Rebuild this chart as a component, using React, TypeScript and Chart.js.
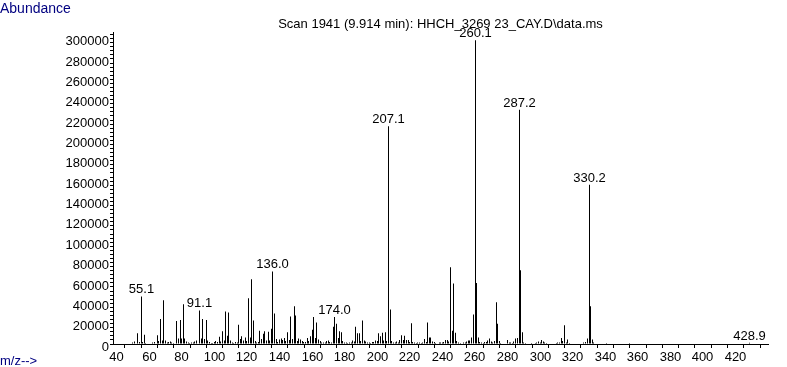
import React, { useEffect, useRef } from "react";
import { Chart, registerables, LinearScale } from "chart.js";

Chart.register(...registerables);

// Linear scale whose pixels land on whole device pixels (crisp 1px spectrum lines)
class CrispLinearScale extends (LinearScale as any) {
  static id = "crispLinear";
  static defaults = {};
  getPixelForValue(value: number) {
    const p = super.getPixelForValue(value);
    return Math.floor(p) + 0.5;
  }
}
Chart.register(CrispLinearScale as any);

// ---- DATA ----
const mzValues: number[] = [
  50, 51, 53, 54, 55.1, 56, 57, 58, 62, 63, 65, 66, 67, 68, 69, 70, 71, 72, 73, 74, 75,
  77, 78, 79, 80, 81, 82, 83, 84, 85, 86, 87, 88, 89, 91.1, 92, 93, 94, 95, 96, 97, 98, 99,
  100, 101, 102, 103, 104, 105, 106, 107, 108, 109, 110, 111, 112, 113, 114, 115, 116, 117,
  118, 119, 120, 121, 122, 123, 124, 125, 126, 127, 128, 129, 130, 131, 132, 133, 134, 135,
  136.0, 137, 138, 139, 140, 141, 142, 143, 144, 145, 146, 147, 148, 149, 150, 151, 152, 153,
  154, 155, 156, 157, 158, 159, 160, 161, 162, 163, 164, 165, 166, 167, 168, 169, 170, 171,
  172, 173, 174.0, 175, 176, 177, 178, 179, 180, 181, 182, 183, 184, 185, 186, 187, 188, 189,
  190, 191, 192, 193, 194, 195, 196, 197, 198, 199, 200, 201, 202, 203, 204, 205, 206, 207.1,
  208, 209, 210, 211, 212, 213, 214, 215, 216, 217, 218, 219, 220, 221, 222, 223, 224, 225,
  226, 227, 228, 229, 230, 231, 232, 233, 234, 235, 236, 238, 239, 240, 241, 242, 243, 244,
  245, 246, 247, 248, 249, 250, 251, 253, 254, 255, 256, 257, 258, 259, 260.1, 261, 262, 263,
  264, 265, 266, 267, 268, 269, 270, 271, 272, 273, 274, 275, 276, 280, 281, 282, 283, 284,
  285, 286, 287.2, 288, 289, 290, 291, 295, 297, 298, 299, 300, 301, 302, 303, 304, 310, 311,
  312, 313, 314, 315, 316, 317, 318, 327, 328, 329, 330.2, 331, 332, 333, 341, 355, 428.9,
];
const abundances: number[] = [
  1500, 2500, 10500, 2000, 46700, 2000, 9000, 1000, 1500, 2000, 8500, 3000, 24500, 3500, 43000, 3500, 1500, 2000, 2500, 1500, 1000,
  22500, 5500, 23500, 5500, 39000, 5500, 2500, 1500, 1000, 1500, 1500, 2500, 3500, 33000, 5500, 24500, 5000, 23500, 3500, 2000, 1000, 1000,
  2000, 3000, 2000, 7000, 2500, 12500, 3500, 32000, 8000, 31000, 3500, 1500, 1000, 2000, 1500, 19000, 5000, 7500,
  3500, 6500, 3000, 45000, 6500, 63500, 23000, 3000, 1500, 2000, 13000, 5000, 10000, 12500, 3500, 12000, 3500, 15000,
  71300, 30000, 5000, 2000, 4500, 5500, 4000, 6000, 3000, 11500, 4000, 27000, 5000, 37000, 28000, 3000, 5500, 4500,
  3000, 2000, 2000, 6000, 3000, 7500, 14000, 26500, 6000, 21000, 4500, 3000, 1500, 1500, 1500, 3000, 3500, 2000,
  1500, 17000, 26500, 20000, 6000, 12500, 11500, 3000, 1500, 1500, 1000, 1500, 1500, 3500, 2500, 17000, 10500, 10500,
  3000, 23000, 3500, 2500, 1500, 1500, 1000, 2000, 2000, 3500, 3000, 10500, 7500, 11000, 3500, 11500, 3000, 214000,
  34000, 3000, 1500, 1500, 2500, 1500, 4000, 8500, 4000, 8000, 4000, 4000, 2000, 20500, 2000, 1500, 1000, 1500,
  1500, 1000, 1500, 5000, 2000, 21000, 6500, 6500, 2500, 2000, 1000, 1500, 1500, 1500, 2000, 4000, 4000, 2500,
  75500, 13000, 59500, 11000, 3000, 1500, 1000, 1500, 1500, 2500, 3500, 3500, 6500, 29000, 298500, 60000, 6500, 2000,
  1500, 1000, 2000, 2000, 3500, 5500, 2500, 1500, 3000, 41000, 20000, 3000, 1000, 4000, 1500, 1500, 1000, 2500,
  5500, 6000, 230000, 72500, 11500, 1500, 1000, 1000, 1000, 1500, 2500, 1500, 4000, 2500, 1500, 1000, 1000, 1500,
  1500, 6000, 3000, 18500, 1500, 4500, 1000, 1500, 2000, 5500, 156500, 37000, 4500, 1500, 1000, 1000, 1200,
];

const labeledPeaks: number[] = [55.1, 91.1, 136.0, 174.0, 207.1, 260.1, 287.2, 330.2, 428.9];
const peakLabels: string[] = ["55.1", "91.1", "136.0", "174.0", "207.1", "260.1", "287.2", "330.2", "428.9"];

const xTickValues: number[] = [40, 50, 60, 70, 80, 90, 100, 110, 120, 130, 140, 150, 160, 170, 180, 190, 200, 210, 220, 230, 240, 250, 260, 270, 280, 290, 300, 310, 320, 330, 340, 350, 360, 370, 380, 390, 400, 410, 420, 430, 440];
const xLabelValues: number[] = [40, 60, 80, 100, 120, 140, 160, 180, 200, 220, 240, 260, 280, 300, 320, 340, 360, 380, 400, 420];
const yLabelValues: number[] = [0, 20000, 40000, 60000, 80000, 100000, 120000, 140000, 160000, 180000, 200000, 220000, 240000, 260000, 280000, 300000];
const yMinorStep = 4000;

const titleText = "Scan 1941 (9.914 min): HHCH_3269 23_CAY.D\\data.ms";
const yAxisTitle = "Abundance";
const xAxisTitle = "m/z-->";

const FONT = "'Liberation Sans', Arial, sans-serif";

export default function App() {
  const canvasRef = useRef<HTMLCanvasElement | null>(null);

  useEffect(() => {
    const canvas = canvasRef.current;
    if (!canvas) return;

    const textPlugin = {
      id: "msText",
      afterDraw(chart: any) {
        const ctx = chart.ctx as CanvasRenderingContext2D;
        const xs = chart.scales.x;
        const ys = chart.scales.y;
        const area = chart.chartArea;
        ctx.save();
        ctx.font = `13px ${FONT}`;
        ctx.fillStyle = "#000000";
        ctx.textBaseline = "alphabetic";
        ctx.textAlign = "center";
        ctx.fillText(titleText, (area.left + area.right) / 2, 28);
        labeledPeaks.forEach((mz, i) => {
          const idx = mzValues.indexOf(mz);
          if (idx < 0) return;
          const px = xs.getPixelForValue(mz);
          const py = ys.getPixelForValue(abundances[idx]);
          ctx.fillText(peakLabels[i], px, py - 3);
        });
        ctx.fillStyle = "#000080";
        ctx.textAlign = "left";
        ctx.font = `14px ${FONT}`;
        ctx.fillText(yAxisTitle, 0, 13);
        ctx.font = `13px ${FONT}`;
        ctx.fillText(xAxisTitle, 0, 365);
        ctx.restore();
      },
    };

    const chart = new Chart(canvas, {
      type: "bar",
      data: {
        datasets: [
          {
            data: mzValues.map((m, i) => ({ x: m, y: abundances[i] })),
            backgroundColor: "#000000",
            borderWidth: 0,
            barThickness: 1,
            inflateAmount: 0,
            grouped: false,
          } as any,
        ],
      },
      options: {
        animation: false,
        responsive: false,
        devicePixelRatio: 1,
        layout: { padding: { top: 32, right: 19, left: 0, bottom: 0 }, autoPadding: false } as any,
        plugins: {
          legend: { display: false },
          tooltip: { enabled: false },
          title: { display: false },
        },
        scales: {
          x: {
            type: "crispLinear",
            min: 37.8,
            max: 440,
            offset: false,
            afterFit: (s: any) => {
              s.height = 23;
            },
            afterBuildTicks: (s: any) => {
              s.ticks = xTickValues.map((v) => ({ value: v }));
            },
            ticks: {
              autoSkip: false,
              maxRotation: 0,
              minRotation: 0,
              padding: 2,
              color: "#000000",
              font: { family: FONT, size: 13 },
              callback: (v: any) => (xLabelValues.includes(Number(v)) ? String(v) : ""),
            },
            grid: {
              display: true,
              drawOnChartArea: false,
              drawTicks: true,
              tickLength: 4,
              color: "#000000",
              tickColor: "#000000",
            },
            border: { display: true, color: "#000000", width: 1 },
          },
          y: {
            type: "linear",
            min: 0,
            max: 306500,
            afterFit: (s: any) => {
              s.width = 113;
            },
            afterBuildTicks: (s: any) => {
              const t: any[] = [];
              for (let v = 0; v <= 304000; v += yMinorStep) t.push({ value: v });
              s.ticks = t;
            },
            ticks: {
              autoSkip: false,
              padding: 1,
              labelOffset: 3,
              color: "#000000",
              font: { family: FONT, size: 13 },
              callback: (v: any) => (yLabelValues.includes(Number(v)) ? String(v) : ""),
            },
            grid: {
              display: true,
              drawOnChartArea: false,
              drawTicks: true,
              tickLength: 3,
              color: "#000000",
              tickColor: "#000000",
            },
            border: { display: true, color: "#000000", width: 1 },
          },
        },
      } as any,
      plugins: [textPlugin],
    });

    return () => {
      chart.destroy();
    };
  }, []);

  return (
    <div style={{ position: "absolute", left: 0, top: 0, width: 787, height: 367, background: "#ffffff" }}>
      <canvas ref={canvasRef} width={787} height={367} style={{ display: "block", width: 787, height: 367 }} />
    </div>
  );
}
